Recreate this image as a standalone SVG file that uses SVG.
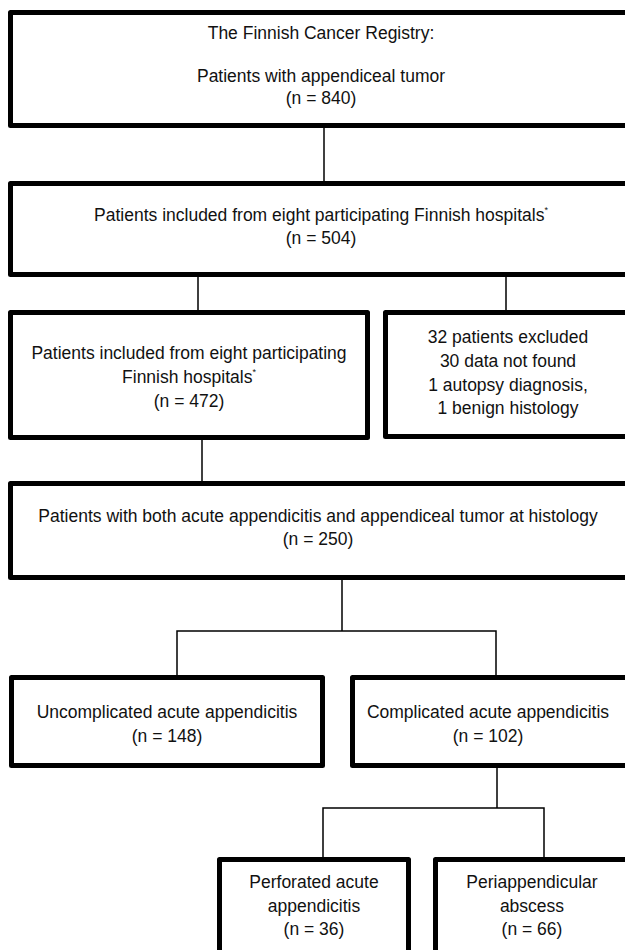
<svg xmlns="http://www.w3.org/2000/svg" width="625" height="950" viewBox="0 0 625 950">
<style>
.box{fill:#fff;stroke:#000;stroke-width:5;stroke-linejoin:round}
.conn{fill:none;stroke:#000;stroke-width:1.5}
text{font-family:"Liberation Sans",Arial,sans-serif;font-size:17.5px;fill:#111;text-anchor:middle}
.sup{font-size:9px}
</style>
<rect width="625" height="950" fill="#fff"/>
<g id="connectors">
<path class="conn" d="M324 128V181"/>
<path class="conn" d="M198 277V311M506 277V311"/>
<path class="conn" d="M202 440V481"/>
<path class="conn" d="M342 580V631M177 675V631H496V675"/>
<path class="conn" d="M497 768V808M323 857V808H544V857"/>
</g>
<g id="registry">
<rect class="box" x="10.5" y="12.5" width="640" height="113"/>
<text x="321" y="39">The Finnish Cancer Registry:</text>
<text x="321" y="82">Patients with appendiceal tumor</text>
<text x="321" y="104">(n = 840)</text>
</g>
<g id="included504">
<rect class="box" x="10.5" y="183.5" width="640" height="91"/>
<text x="321" y="221">Patients included from eight participating Finnish hospitals<tspan class="sup" dy="-8">*</tspan></text>
<text x="321" y="244">(n = 504)</text>
</g>
<g id="included472">
<rect class="box" x="10.5" y="312.5" width="357" height="125"/>
<text x="189" y="359">Patients included from eight participating</text>
<text x="189" y="383">Finnish hospitals<tspan class="sup" dy="-8">*</tspan></text>
<text x="189" y="407">(n = 472)</text>
</g>
<g id="excluded">
<rect class="box" x="385.5" y="312.5" width="245" height="124"/>
<text x="508" y="343">32 patients excluded</text>
<text x="508" y="367">30 data not found</text>
<text x="508" y="391">1 autopsy diagnosis,</text>
<text x="508" y="414">1 benign histology</text>
</g>
<g id="both250">
<rect class="box" x="10.5" y="483.5" width="640" height="94"/>
<text x="318" y="522">Patients with both acute appendicitis and appendiceal tumor at histology</text>
<text x="318" y="545">(n = 250)</text>
</g>
<g id="uncomplicated">
<rect class="box" x="11.5" y="677.5" width="311" height="88"/>
<text x="167" y="718">Uncomplicated acute appendicitis</text>
<text x="167" y="742">(n = 148)</text>
</g>
<g id="complicated">
<rect class="box" x="352.5" y="677.5" width="277" height="88"/>
<text x="488" y="718">Complicated acute appendicitis</text>
<text x="488" y="742">(n = 102)</text>
</g>
<g id="perforated">
<rect class="box" x="219.5" y="859.5" width="189" height="120"/>
<text x="314" y="888">Perforated acute</text>
<text x="314" y="912">appendicitis</text>
<text x="314" y="935">(n = 36)</text>
</g>
<g id="abscess">
<rect class="box" x="435.5" y="859.5" width="193" height="120"/>
<text x="532" y="888">Periappendicular</text>
<text x="532" y="912">abscess</text>
<text x="532" y="935">(n = 66)</text>
</g>
</svg>
